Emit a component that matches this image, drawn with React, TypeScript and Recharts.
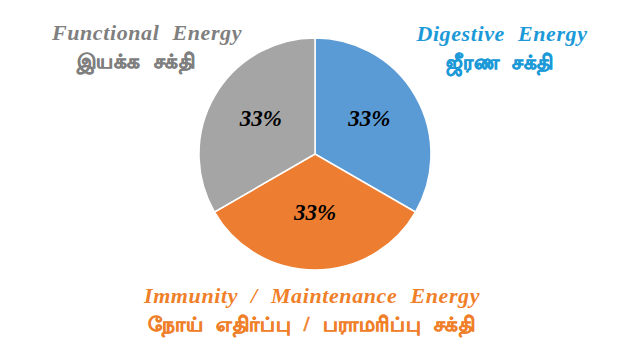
import { Cell, Pie, PieChart } from "recharts";

// slices, clockwise from 12 o'clock
const categories = ["Digestive Energy", "Immunity / Maintenance Energy", "Functional Energy"];
const tamilNames = ["ஜீரண சக்தி", "நோய் எதிர்ப்பு / பராமரிப்பு சக்தி", "இயக்க சக்தி"];
const shares = [33, 33, 33];

const sliceColors = ["#5B9BD5", "#ED7D31", "#A5A5A5"];
const titleColors = ["#1C9AD8", "#F07F2A", "#7F7F7F"];

const chartData = categories.map((name, i) => ({ name, value: shares[i] }));

// where each category caption sits (centre x, top y, tamil line nudge)
const captionSpots = [
  { x: 502, y: 20, tx: -2 },
  { x: 312, y: 282, tx: 0 },
  { x: 147, y: 19, tx: -11 },
];

const RADIAN = Math.PI / 180;

function renderPercent(props: any) {
  const { cx, cy, midAngle, outerRadius, percent } = props;
  const r = outerRadius * 0.54;
  const x = cx + r * Math.cos(-midAngle * RADIAN);
  const y = cy + r * Math.sin(-midAngle * RADIAN) - 4;
  return (
    <text
      x={x}
      y={y}
      fill="#000"
      textAnchor="middle"
      dominantBaseline="central"
      fontFamily="'Liberation Serif', serif"
      fontWeight="bold"
      fontStyle="italic"
      fontSize={23}
    >
      {`${Math.round(percent * 100)}%`}
    </text>
  );
}

export default function App() {
  return (
    <div
      style={{
        position: "absolute",
        left: 0,
        top: 0,
        width: 640,
        height: 360,
        background: "#fff",
      }}
    >
      <PieChart width={640} height={360} margin={{ top: 0, right: 0, bottom: 0, left: 0 }}>
        <Pie
          data={chartData}
          dataKey="value"
          nameKey="name"
          cx={315}
          cy={154}
          outerRadius={116}
          startAngle={90}
          endAngle={-270}
          stroke="#fff"
          strokeWidth={1.5}
          label={renderPercent}
          labelLine={false}
          isAnimationActive={false}
        >
          {chartData.map((d, i) => (
            <Cell key={d.name} fill={sliceColors[i]} />
          ))}
        </Pie>
      </PieChart>
      {categories.map((name, i) => (
        <div
          key={name}
          style={{
            position: "absolute",
            left: captionSpots[i].x - 220,
            top: captionSpots[i].y,
            width: 440,
            textAlign: "center",
            color: titleColors[i],
            fontFamily: "'Liberation Serif', serif",
            fontWeight: "bold",
            fontStyle: "italic",
            fontSize: 22,
            letterSpacing: 0.6,
            wordSpacing: 7,
            lineHeight: "28px",
          }}
        >
          <div>{name}</div>
          <div
            style={{
              position: "relative",
              left: captionSpots[i].tx,
              fontStyle: "normal",
              fontSize: 20,
              letterSpacing: 0.6,
              WebkitTextStroke: `0.6px ${titleColors[i]}`,
            }}
          >
            {tamilNames[i]}
          </div>
        </div>
      ))}
    </div>
  );
}
